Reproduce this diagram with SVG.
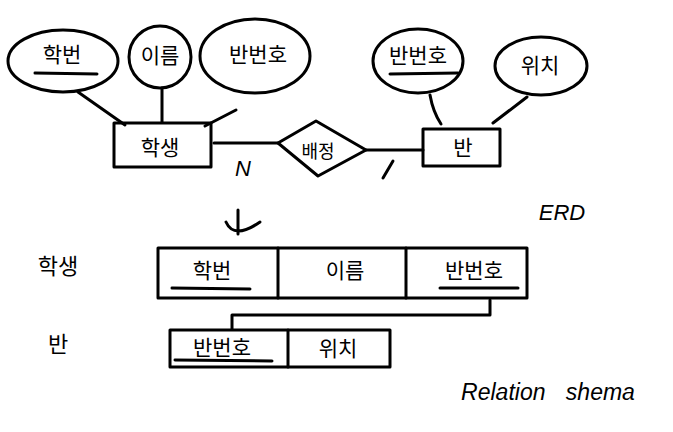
<svg xmlns="http://www.w3.org/2000/svg" width="673" height="432" viewBox="0 0 673 432">
<style>
.s{fill:none;stroke:#000;stroke-width:3;stroke-linecap:round;stroke-linejoin:round}
.t{font-family:"Noto Sans CJK KR","Noto Sans",sans-serif;font-size:21px;fill:#000;text-anchor:middle}
.l{font-family:"Liberation Sans","Noto Sans",sans-serif;font-size:20px;fill:#000;text-anchor:middle}
</style>
<rect width="673" height="432" fill="#fff"/>
<g id="attr-hakbeon"><ellipse class="s" cx="63" cy="61" rx="55" ry="31"/><text class="t" x="62" y="62">학번</text><line class="s" x1="35" y1="73" x2="97" y2="74"/></g>
<g id="attr-ireum"><ellipse class="s" cx="160" cy="57" rx="31" ry="31"/><text class="t" x="160" y="63">이름</text></g>
<g id="attr-banbeonho1"><ellipse class="s" cx="255" cy="56" rx="55" ry="37"/><text class="t" x="258" y="62">반번호</text></g>
<g id="student"><rect class="s" x="114" y="123" width="97" height="44"/><text class="t" x="160" y="155">학생</text></g>
<g id="assign"><polygon class="s" points="278,143 316,121 366,150 318,176"/><text class="t" x="318" y="158" style="font-size:18px">배정</text></g>
<g id="class"><rect class="s" x="423" y="129" width="77" height="37"/><text class="t" x="463" y="155">반</text></g>
<g id="attr-banbeonho2"><ellipse class="s" cx="418" cy="61" rx="45" ry="32"/><text class="t" x="418" y="63">반번호</text><line class="s" x1="390" y1="74" x2="458" y2="73"/></g>
<g id="attr-wichi"><ellipse class="s" cx="541" cy="66" rx="46" ry="29"/><text class="t" x="540" y="73">위치</text></g>
<g id="connectors">
<line class="s" x1="78" y1="92" x2="125" y2="125"/>
<line class="s" x1="162" y1="88" x2="162" y2="122"/>
<line class="s" x1="205" y1="126" x2="236" y2="110"/>
<line class="s" x1="214" y1="143" x2="278" y2="143"/>
<line class="s" x1="366" y1="150" x2="423" y2="150"/>
<path class="s" d="M430,95 Q433,112 441,124"/>
<line class="s" x1="493" y1="123" x2="527" y2="97"/>
<path class="s" d="M232,329 V315 H490 V300"/>
</g>
<g id="labels">
<text class="l" x="243" y="176" style="font-style:italic;font-size:22px">N</text>
<line class="s" x1="383" y1="178" x2="393" y2="161"/>
<text class="l" x="562" y="220" style="font-size:22px;font-style:italic">ERD</text>
<path class="s" d="M238,210 V234 M226,222 Q234,240 260,222"/>
<text class="t" x="58" y="274" style="font-size:22px">학생</text>
<text class="t" x="58" y="352" style="font-size:22px">반</text>
<text class="l" x="548" y="400" style="font-style:italic;font-size:23px;word-spacing:14px">Relation shema</text>
</g>
<g id="table-student">
<rect class="s" x="158" y="248" width="369" height="50"/>
<line class="s" x1="278" y1="248" x2="278" y2="298"/>
<line class="s" x1="406" y1="248" x2="406" y2="298"/>
<text class="t" x="212" y="278">학번</text><line class="s" x1="172" y1="288" x2="250" y2="289"/>
<text class="t" x="345" y="278">이름</text>
<text class="t" x="474" y="278">반번호</text><line class="s" x1="440" y1="288" x2="518" y2="288"/>
</g>
<g id="table-class">
<rect class="s" x="170" y="330" width="220" height="37"/>
<line class="s" x1="288" y1="330" x2="288" y2="367"/>
<text class="t" x="222" y="355">반번호</text><line class="s" x1="175" y1="360" x2="272" y2="361"/>
<text class="t" x="338" y="356">위치</text>
</g>
</svg>
